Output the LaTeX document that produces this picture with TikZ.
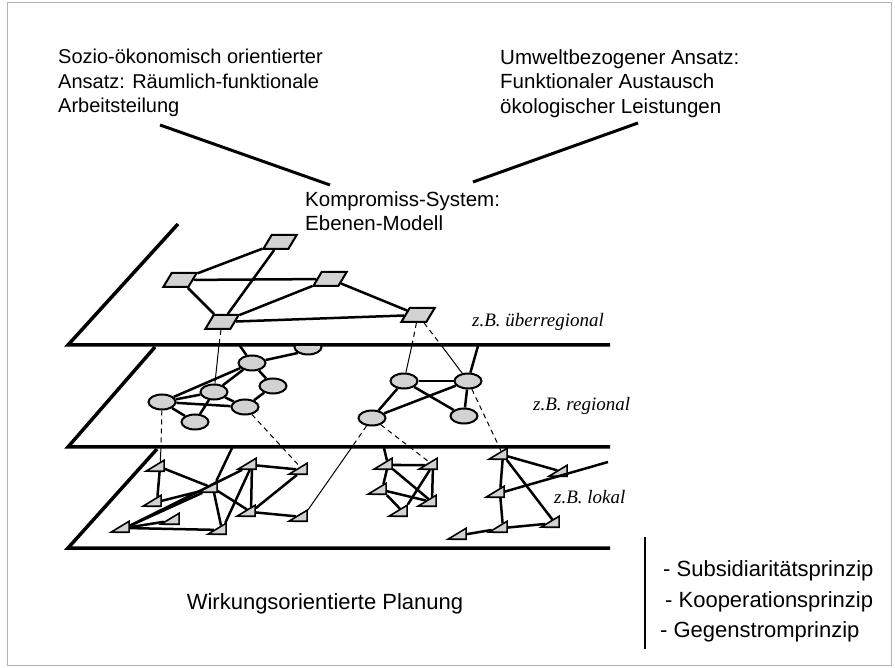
\documentclass[tikz,border=0pt]{standalone}
\usepackage{fontspec}
\setmainfont{Liberation Serif}
\setsansfont{Liberation Sans}
\usetikzlibrary{shapes.geometric}

\begin{document}
\begin{tikzpicture}[x=1pt, y=-1pt,
  plane/.style={line width=3.5pt},
  edge/.style={line width=2.5pt},
  link/.style={line width=1pt, dash pattern=on 5pt off 4pt},
  thinlink/.style={line width=1pt},
  topnode/.style={rectangle, xslant=0.6, draw, line width=2pt, fill=gray!35,
    minimum width=25pt, minimum height=14pt, inner sep=0pt},
  midnode/.style={ellipse, draw, line width=2pt, fill=gray!35, minimum width=27pt, minimum height=15pt, inner sep=0pt},
  lownode/.style={isosceles triangle, isosceles triangle stretches, shape border rotate=180, yslant=0.3,
    draw, line width=1.6pt, fill=gray!35, minimum width=11pt, minimum height=18pt, inner sep=0pt},
  txt/.style={font=\sffamily\fontsize{20.5}{24.5}\selectfont, align=left, inner sep=0pt},
  bigtxt/.style={font=\sffamily\fontsize{22}{26}\selectfont, inner sep=0pt},
  lvl/.style={font=\itshape\fontsize{19}{22}\selectfont, inner sep=0pt, anchor=west}]
\useasboundingbox (0,0) rectangle (895,668);
\draw[gray!60, line width=1pt] (7,3) rectangle (891,665);

% headings
\node[txt, anchor=north west, font=\sffamily\fontsize{20}{24.5}\selectfont] (soz) at (58,49) {Sozio-ökonomisch orientierter\\Ansatz: Räumlich-funktionale\\Arbeitsteilung};
\node[txt, anchor=north west] (umw) at (500,49) {Umweltbezogener Ansatz:\\Funktionaler Austausch\\ökologischer Leistungen};
\node[txt, anchor=north west] (komp) at (305,191) {Kompromiss-System:\\Ebenen-Modell};
\coordinate (sozend) at (160,125);
\coordinate (kompl) at (330,185);
\coordinate (umwend) at (638,123);
\coordinate (kompr) at (473,182);
\draw[line width=3pt] (sozend) -- (kompl);
\draw[line width=3pt] (umwend) -- (kompr);

% planes
\draw[plane] (178,224) -- (68,345) -- (610,345);
\draw[plane] (155,347) -- (68,447) -- (610,447);
\draw[plane] (157,449) -- (68,548) -- (610,548);

% level labels
\node[lvl] (lvltop) at (472,322) {z.B. überregional};
\node[lvl] (lvlmid) at (533,406) {z.B. regional};
\node[lvl] (lvllow) at (554,497) {z.B. lokal};

% top level nodes
\node[topnode] (P1) at (280,242) {};
\node[topnode] (P2) at (180,280) {};
\node[topnode] (P3) at (330,279) {};
\node[topnode] (P4) at (222,322) {};
\node[topnode] (P5) at (418,315) {};

\draw[edge] (P2) -- (P1);
\draw[edge] (P2) -- (P3);
\draw[edge] (P2) -- (P4);
\draw[edge] (P1) -- (P4);
\draw[edge] (P4) -- (P3);
\draw[edge] (P4) -- (P5);
\draw[edge] (P3) -- (P5);

% middle level nodes
\begin{scope}
\clip (0,347) rectangle (895,668);
\node[midnode] (M1) at (308,347) {};
\end{scope}
\node[midnode] (M2) at (252,363) {};
\node[midnode] (M3) at (273,386) {};
\node[midnode] (M4) at (214,392) {};
\node[midnode] (M5) at (162,402) {};
\node[midnode] (M6) at (245,407) {};
\node[midnode] (M7) at (195,422) {};
\node[midnode] (M8) at (404,381) {};
\node[midnode] (M9) at (468,381) {};
\node[midnode] (M10) at (372,418) {};
\node[midnode] (M11) at (464,416) {};
\coordinate (M2up) at (240,346);
\coordinate (M9up) at (478,346);

\draw[edge] (M2) -- (M1.south west);
\draw[edge] (M2) -- (M2up);
\draw[edge] (M5) -- (M2);
\draw[edge] (M5) -- (M4);
\draw[edge] (M5) -- (M6);
\draw[edge] (M5) -- (M7);
\draw[edge] (M4) -- (M2);
\draw[edge] (M4) -- (M6);
\draw[edge] (M7) -- (M4);
\draw[edge] (M2) -- (M3);
\draw[edge] (M3) -- (M6);
\draw[edge] (M8) -- (M9);
\draw[edge] (M8) -- (M11);
\draw[edge] (M10) -- (M8);
\draw[edge] (M10) -- (M9);
\draw[edge] (M9) -- (M11);
\draw[edge] (M9) -- (M9up);

% lower level nodes
\node[lownode] (L1) at (160,467) {};
\node[lownode] (L2) at (157,502) {};
\node[lownode] (L3) at (125,528) {};
\node[lownode] (L4) at (175,520) {};
\node[lownode] (L5) at (213,488) {};
\node[lownode] (L6) at (252,465) {};
\node[lownode] (L7) at (251,512) {};
\node[lownode] (L8) at (222,530) {};
\node[lownode] (L9) at (303,470) {};
\node[lownode] (L10) at (303,517) {};
\node[lownode] (L11) at (388,465) {};
\node[lownode] (L12) at (433,465) {};
\node[lownode] (L13) at (382,490) {};
\node[lownode] (L14) at (432,502) {};
\node[lownode] (L15) at (403,512) {};
\node[lownode] (L16) at (503,455) {};
\node[lownode] (L17) at (563,472) {};
\node[lownode] (L18) at (500,493) {};
\node[lownode] (L19) at (503,528) {};
\node[lownode] (L20) at (555,523) {};
\node[lownode] (L21) at (462,535) {};
\coordinate (L5up) at (232,448);
\coordinate (L11up) at (384,448);
\coordinate (L18end) at (608,462);

\draw[edge] (L1) -- (L2);
\draw[edge] (L1) -- (L5);
\draw[edge] (L5) -- (L7);
\draw[edge] (L2) -- (L5);
\draw[edge] (L3) -- (L5);
\draw[edge] (L3) -- (L6);
\draw[edge] (L3) -- (L4);
\draw[edge] (L3) -- (L8);
\draw[edge] (L5) -- (L8);
\draw[edge] (L5) -- (L5up);
\draw[edge] (L6) -- (L7);
\draw[edge] (L6) -- (L8);
\draw[edge] (L6) -- (L9);
\draw[edge] (L7) -- (L10);
\draw[edge] (L7) -- (L9);
\draw[edge] (L11) -- (L12);
\draw[edge] (L11) -- (L13);
\draw[edge] (L11) -- (L14);
\draw[edge] (L12) -- (L15);
\draw[edge] (L12) -- (L14);
\draw[edge] (L13) -- (L14);
\draw[edge] (L13) -- (L15);
\draw[edge] (L11) -- (L11up);
\draw[edge] (L16) -- (L18);
\draw[edge] (L18) -- (L19);
\draw[edge] (L16) -- (L17);
\draw[edge] (L16) -- (L20);
\draw[edge] (L18) -- (L18end);
\draw[edge] (L19) -- (L20);
\draw[edge] (L21) -- (L19);

% links between levels
\coordinate (X1) at (219,345);
\coordinate (X2) at (412,345);
\coordinate (X3) at (441,345);
\coordinate (X4) at (161,447);
\coordinate (X5) at (352,447);
\draw[link] (P4) -- (X1);
\draw[thinlink] (X1) -- (M4);
\draw[link] (P5) -- (X2);
\draw[thinlink] (X2) -- (M8);
\draw[link] (P5) -- (X3);
\draw[thinlink] (X3) -- (M9);
\draw[link] (M9) -- (L16);
\draw[link] (M5) -- (X4);
\draw[thinlink] (X4) -- (L1);
\draw[link] (M6) -- (L9);
\draw[link] (M10) -- (X5);
\draw[thinlink] (X5) -- (L10);
\draw[link] (M10) -- (L12);

% bottom texts
\node[bigtxt] (plan) at (325,604) {Wirkungsorientierte Planung};
\coordinate (sep1) at (645,537);
\coordinate (sep2) at (645,649);
\draw[line width=1.2pt] (sep1) -- (sep2);
\node[bigtxt, anchor=west] (prin1) at (663,571) {- Subsidiaritätsprinzip};
\node[bigtxt, anchor=west] (prin2) at (665,602) {- Kooperationsprinzip};
\node[bigtxt, anchor=west] (prin3) at (660,632) {- Gegenstromprinzip};
\end{tikzpicture}
\end{document}
